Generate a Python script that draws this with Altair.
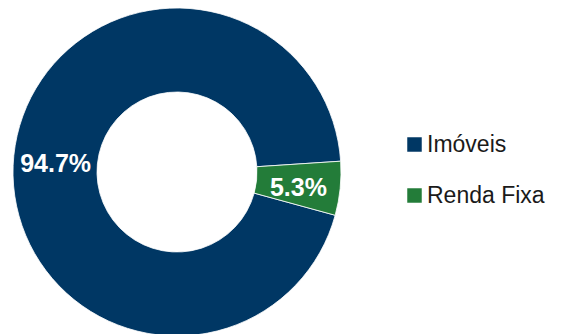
import math
import altair as alt
import pandas as pd

categories = ["Imóveis", "Renda Fixa"]
values = [94.7, 5.3]
labels = ["94.7%", "5.3%"]
colors = ["#003764", "#237c39"]

df = pd.DataFrame({"cat": categories, "val": values, "lab": labels, "ord": [0, 1]})

start = math.radians(105.3)
theta_scale = alt.Scale(range=[start, start + 2 * math.pi])

cx, cy = 177, 172

base = alt.Chart(df).encode(
    theta=alt.Theta("val:Q", stack=True, scale=theta_scale),
    order=alt.Order("ord:Q", sort="ascending"),
)

arcs = base.mark_arc(outerRadius=164, innerRadius=80, stroke="white", strokeWidth=0.8).encode(
    x=alt.value(cx),
    y=alt.value(cy),
    color=alt.Color(
        "cat:N",
        scale=alt.Scale(domain=categories, range=colors),
        legend=alt.Legend(
            title=None,
            orient="none",
            legendX=403,
            legendY=133,
            symbolType="square",
            symbolSize=210,
            symbolStrokeWidth=0,
            labelFontSize=23,
            labelFont="Liberation Sans",
            labelColor="#1a1a1a",
            labelOffset=1,
            rowPadding=27,
            padding=0,
        ),
    ),
)

text = base.mark_text(
    radius=122, dy=4, fontSize=25, fontWeight="bold", font="Liberation Sans", color="white"
).encode(
    x=alt.value(cx),
    y=alt.value(cy),
    text="lab:N",
)

chart = (
    alt.layer(arcs, text)
    .properties(width=563, height=334, padding=0, autosize=alt.AutoSizeParams(type="none"))
    .configure_view(stroke=None)
)

chart.save("out.html", embed_options={"renderer": "svg", "actions": False})
